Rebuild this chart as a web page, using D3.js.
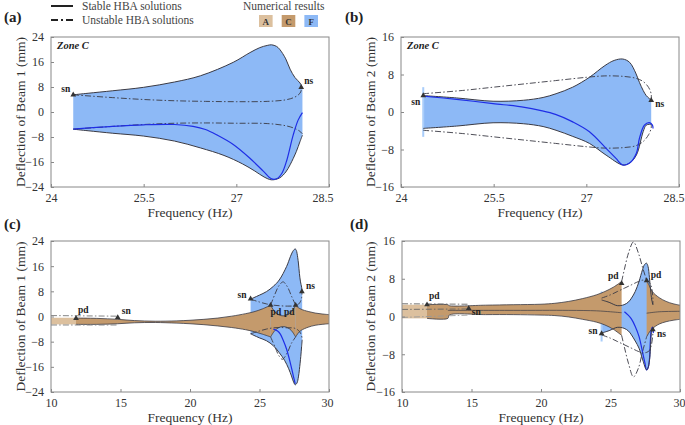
<!DOCTYPE html>
<html><head><meta charset="utf-8">
<script src="https://cdn.jsdelivr.net/npm/d3@7"></script>
<style>body{margin:0;background:#fff}svg{display:block}</style>
</head><body>
<svg id="chart" width="685" height="425"></svg>
<script>
// ---------------- DATA (frequency Hz, deflection mm) ----------------
const ticksZoomX = [24, 25.5, 27, 28.5];
const ticksFullX = [10, 15, 20, 25, 30];
const ticksBeam1Y = [-24, -16, -8, 0, 8, 16, 24];
const ticksBeam2Y = [-16, -8, 0, 8, 16];
const legendBoxes = ["A", "C", "F"];

// Beam 1, zone F branch (HBA)
const b1StableUpper = [[24.36,5.5],[24.6,6.0],[25.0,6.8],[25.5,7.9],[26.0,9.6],[26.42,11.6],[26.95,15.9],[27.22,19.0],[27.38,20.6],[27.5,21.3],[27.57,21.5],[27.65,21.0],[27.7,20.1],[27.8,17.0],[27.87,13.7],[27.95,11.0],[28.03,9.3],[28.07,7.6]];
const b1StableLower = [[24.36,-5.5],[24.6,-6.0],[25.0,-6.8],[25.5,-7.7],[26.0,-9.3],[26.42,-11.5],[26.8,-13.9],[27.1,-16.6],[27.3,-18.9],[27.45,-20.8],[27.57,-21.7],[27.7,-21.1],[27.8,-19.2],[27.87,-16.9],[27.97,-12.7],[28.03,-9.5],[28.07,-7.4]];
const b1UnstableUpper = [[24.36,5.5],[25.0,4.6],[25.5,4.0],[26.0,3.6],[26.5,3.4],[27.0,3.3],[27.5,3.4],[27.8,3.9],[27.95,4.8],[28.03,6.0],[28.06,7.6]];
const b1UnstableLower = [[24.36,-5.5],[25.0,-4.6],[25.5,-4.0],[26.0,-3.6],[26.5,-3.5],[27.0,-3.6],[27.5,-3.7],[27.8,-4.4],[27.95,-5.3],[28.03,-6.2],[28.07,-7.0]];
const b1Numerical = [[24.36,-5.5],[25.0,-4.6],[25.5,-4.1],[26.0,-4.0],[26.3,-4.6],[26.5,-5.6],[26.69,-7.4],[26.95,-10.4],[27.22,-14.8],[27.44,-19.0],[27.57,-21.4],[27.66,-21.3],[27.74,-19.5],[27.81,-15.9],[27.92,-7.4],[28.0,-2.6],[28.07,-0.2]];

// Beam 2, zone F branch (HBA)
const b2StableUpper = [[24.36,3.5],[24.9,3.0],[25.49,2.3],[25.98,2.5],[26.3,3.1],[26.51,3.9],[26.78,5.3],[27.05,7.4],[27.3,9.9],[27.45,11.0],[27.59,11.3],[27.7,10.6],[27.8,8.3],[27.86,6.3],[27.92,4.6],[27.97,3.5],[28.05,2.5]];
const b2StableLower = [[24.36,-3.5],[24.9,-3.0],[25.49,-2.3],[25.98,-2.5],[26.3,-3.1],[26.51,-3.9],[26.78,-5.2],[27.05,-6.7],[27.32,-9.2],[27.59,-11.3],[27.7,-10.9],[27.81,-9.2],[27.92,-4.2],[27.97,-2.8],[28.05,-2.6]];
const b2UnstableUpper = [[24.36,3.9],[25.0,4.6],[25.5,5.3],[26.0,6.0],[26.5,6.7],[27.0,7.4],[27.3,7.7],[27.6,7.6],[27.8,7.2],[27.92,6.5],[28.01,5.2],[28.05,3.8],[28.05,2.5]];
const b2UnstableLower = [[24.36,-3.9],[25.0,-4.6],[25.5,-5.3],[26.0,-6.0],[26.5,-6.7],[27.0,-7.4],[27.3,-7.7],[27.6,-7.6],[27.8,-7.2],[27.92,-6.3],[28.01,-4.8],[28.05,-3.4],[28.05,-2.6]];
const b2Numerical = [[24.36,3.4],[24.9,2.7],[25.49,1.8],[26.0,1.0],[26.25,0.35],[26.5,-0.5],[26.78,-2.1],[27.05,-4.2],[27.32,-7.75],[27.48,-9.9],[27.59,-11.3],[27.7,-10.9],[27.81,-8.8],[27.86,-5.6],[27.94,-2.8],[28.02,-2.25],[28.07,-2.8],[28.08,-3.5]];

// Beam 1, full sweep: zone A / C bands
const c1BandA_up = [[10,-0.4],[11.8,-0.4]];
const c1BandA_lo = [[10,-2.5],[11.8,-2.5]];
const c1BandL_up = [[11.8,-0.5],[13.3,-0.6],[14.8,-0.9],[16,-1.3],[17.5,-1.5],[19,-1.4],[20,-1.2],[21,-0.9],[22,-0.5],[23,0.1],[24,0.9],[24.6,1.5],[25.2,2.4],[25.8,3.6]];
const c1BandL_lo = [[11.8,-2.5],[13.3,-2.5],[14.8,-2.3],[16,-2.0],[17.5,-1.9],[19,-2.1],[20,-2.3],[21,-2.6],[22,-3.0],[23,-3.5],[24,-4.2],[24.6,-4.8],[25.2,-5.6],[25.8,-6.5]];
const c1BandM_up = [[25.8,3.6],[26.1,1.5],[26.4,0.5],[26.7,0.2],[27.0,0.5],[27.3,1.5],[27.6,3.6]];
const c1BandM_lo = [[25.8,-6.5],[26.1,-4.5],[26.4,-3.5],[26.7,-3.2],[27.0,-3.5],[27.3,-4.5],[27.6,-6.5]];
const c1BandR_up = [[27.6,3.6],[27.8,2.8],[28,2.3],[28.5,1.6],[29,1.1],[29.5,0.8],[30,0.6]];
const c1BandR_lo = [[27.6,-6.5],[27.8,-5.2],[28,-4.4],[28.5,-3.4],[29,-2.8],[29.5,-2.5],[30,-2.3]];
const c1HumpUp = [[25.8,3.6],[26.1,7.0],[26.4,9.8],[26.7,11.0],[27.0,9.5],[27.3,6.5],[27.6,3.6]];
const c1HumpLo = [[25.8,-6.5],[26.1,-9.5],[26.4,-12.5],[26.65,-13.6],[27.0,-11.5],[27.3,-8.5],[27.6,-6.5]];
const c1DashL1 = [[10,0.3],[14.8,0.1]];
const c1DashL2 = [[10,-2.7],[14.8,-2.7]];
const c1Markers = [[11.8,-0.6,"pd"],[14.8,-0.3,"sn"],[24.36,5.6,"sn"],[25.8,3.6,"pd"],[27.6,3.6,"pd"],[28.05,7.9,"ns"]];

// Beam 2, full sweep: zone A / C bands
const c2BandA_up = [[10,2.5],[11.8,2.5]];
const c2BandA_lo = [[10,-0.4],[11.8,-0.4]];
const c2BandL_up = [[11.8,2.5],[13.3,2.5],[13.4,2.3],[16,2.4],[18,2.5],[20,2.6],[21,2.8],[22,3.2],[23,3.8],[24,4.6],[24.6,5.3],[25.2,6.2],[25.8,7.4]];
const c2BandL_lo = [[11.8,-0.4],[13.3,-0.4],[13.4,0.3],[16,0.4],[18,0.4],[20,0.3],[21,0.2],[22,-0.1],[23,-0.6],[24,-1.2],[24.6,-1.8],[25.2,-2.7],[25.8,-4.0]];
const c2BandR_up = [[27.6,7.6],[27.8,6.5],[28,5.3],[28.5,4.0],[29,3.2],[29.5,2.7],[30,2.4]];
const c2BandR_lo = [[27.6,-4.3],[27.8,-3.3],[28,-2.6],[28.5,-1.6],[29,-1.1],[29.5,-0.8],[30,-0.6]];
const c2HumpUp = [[25.8,7.4],[26.0,10.0],[26.3,13.5],[26.65,15.8],[27.0,13.5],[27.3,10.5],[27.6,7.6]];
const c2HumpLo = [[25.8,-4.0],[26.0,-6.5],[26.3,-10.0],[26.65,-12.8],[27.0,-11.0],[27.3,-7.5],[27.6,-4.3]];
const c2Mid = [[13.3,1.3],[18,1.3],[22,1.3],[24,1.2],[25,1.0],[25.8,0.8]];
const c2MidR = [[27.6,0.7],[28.5,1.0],[30,1.1]];
const c2DashL1 = [[10,2.7],[14.8,2.6]];
const c2DashL2 = [[10,1.5],[14.8,1.6]];
const c2DashL3 = [[10,-0.2],[14.8,0.3]];
const c2Markers = [[11.8,2.5,"pd"],[14.8,1.7,"sn"],[24.36,-3.6,"sn"],[25.8,7.0,"pd"],[27.6,7.6,"pd"],[28.05,-2.8,"ns"]];

const a1Markers = [[24.36,5.5,"sn"],[28.05,7.9,"ns"]];
const a2Markers = [[24.36,3.5,"sn"],[28.05,2.5,"ns"]];

// ---------------- STYLE ----------------
const FONT = "'Liberation Serif','DejaVu Serif',serif";
const COL_F = "#8db9f6", COL_C = "#c49a6c", COL_A = "#dcc09e";
const COL_LINE = "#3a3a44", COL_BLUE = "#1f2ee6";
const DASHDOT = "6,2.2,1.5,2.2";

const svg = d3.select("#chart");

// ---------------- LEGEND ----------------
svg.append("line").attr("x1",51).attr("x2",73).attr("y1",6).attr("y2",6).attr("stroke","#222").attr("stroke-width",2);
svg.append("line").attr("x1",51).attr("x2",73).attr("y1",20).attr("y2",20).attr("stroke","#222").attr("stroke-width",2).attr("stroke-dasharray","7,3,2,3");
svg.append("text").attr("x",82).attr("y",10).text("Stable HBA solutions").style("font-family",FONT).style("font-size","11.5px").attr("fill","#444");
svg.append("text").attr("x",82).attr("y",24).text("Unstable HBA solutions").style("font-family",FONT).style("font-size","11.5px").attr("fill","#444");
svg.append("text").attr("x",243).attr("y",10).text("Numerical results").style("font-family",FONT).style("font-size","11.5px").attr("fill","#444");
const legScale = d3.scaleBand().domain(legendBoxes).range([259,318]).paddingInner(0.4);
const legCols = {A:COL_A, C:COL_C, F:COL_F};
legendBoxes.forEach(k=>{
  svg.append("rect").attr("x",legScale(k)).attr("y",15).attr("width",legScale.bandwidth()).attr("height",12).attr("fill",legCols[k]);
  svg.append("text").attr("x",legScale(k)+legScale.bandwidth()/2).attr("y",24.5).attr("text-anchor","middle")
    .text(k).style("font-family",FONT).style("font-size","9px").style("font-weight","bold").attr("fill","#333");
});

// ---------------- PANELS ----------------
const labelOffsets = {
  a: [["end",-3,-3],["start",3,-3]],
  b: [["end",-3,9],["start",4,7]],
  c: [["start",2,-5],["start",4,-3],["end",-4,-1],["start",0,10],["end",-1,10],["start",4,-3]],
  d: [["start",2,-6],["start",3,7],["end",-4,1],["end",-3,-4],["start",4,-3],["start",4,7]]
};

const panels = [
  {id:"a", x0:51, x1:329, y0:37, y1:187, xdom:[24,28.5], ydom:[-24,24], xt:ticksZoomX, yt:ticksBeam1Y, ylab:"Deflection of Beam 1 (mm)", tx:4, ty:22, ylx:20, zone:true},
  {id:"b", x0:401, x1:679, y0:37, y1:187, xdom:[24,28.5], ydom:[-16,16], xt:ticksZoomX, yt:ticksBeam2Y, ylab:"Deflection of Beam 2 (mm)", tx:345, ty:22, ylx:370, zone:true},
  {id:"c", x0:51, x1:329, y0:241, y1:392, xdom:[10,30], ydom:[-24,24], xt:ticksFullX, yt:ticksBeam1Y, ylab:"Deflection of Beam 1 (mm)", tx:4, ty:229, ylx:20, zone:false},
  {id:"d", x0:402, x1:680, y0:241, y1:392, xdom:[10,30], ydom:[-16,16], xt:ticksFullX, yt:ticksBeam2Y, ylab:"Deflection of Beam 2 (mm)", tx:350, ty:229, ylx:370, zone:false}
];

panels.forEach(p=>{
  const x = d3.scaleLinear().domain(p.xdom).range([p.x0,p.x1]);
  const y = d3.scaleLinear().domain(p.ydom).range([p.y1,p.y0]);
  const g = svg.append("g");
  const clipId = "clip-"+p.id;
  svg.append("clipPath").attr("id",clipId).append("rect").attr("x",p.x0).attr("y",p.y0).attr("width",p.x1-p.x0).attr("height",p.y1-p.y0);
  const plot = g.append("g").attr("clip-path",`url(#${clipId})`);

  const lineC = d3.line().x(d=>x(d[0])).y(d=>y(d[1])).curve(d3.curveCatmullRom.alpha(0.5));
  const lineL = d3.line().x(d=>x(d[0])).y(d=>y(d[1]));
  const band = (up, lo, fill, curved=true) => {
    const f = curved ? lineC : lineL;
    const d = f(up) + f(lo.slice().reverse()).replace(/^M/,"L") + "Z";
    plot.append("path").attr("d",d).attr("fill",fill).attr("stroke","none");
  };
  const ln = (data, stroke, w, dash) => {
    const pth = plot.append("path").attr("d",lineC(data)).attr("fill","none").attr("stroke",stroke).attr("stroke-width",w);
    if (dash) pth.attr("stroke-dasharray",dash);
    return pth;
  };
  const markers = (arr, offs) => {
    arr.forEach((m,i)=>{
      g.append("path").attr("d",d3.symbol(d3.symbolTriangle,14)()).attr("transform",`translate(${x(m[0])},${y(m[1])})`).attr("fill","#333");
      const o = offs[i];
      g.append("text").attr("x",x(m[0])+o[1]).attr("y",y(m[1])+o[2]).attr("text-anchor",o[0])
        .text(m[2]).style("font-family",FONT).style("font-size","9.5px").style("font-weight","bold").attr("fill","#222");
    });
  };

  if (p.id === "a" || p.id === "c") {
    band(b1StableUpper, b1StableLower, COL_F);
  } else {
    band(b2StableUpper, b2StableLower, COL_F);
    plot.append("line").attr("x1",x(24.36)).attr("x2",x(24.36)).attr("y1",y(5.3)).attr("y2",y(-5.3)).attr("stroke","#a9cdfa").attr("stroke-width",2);
  }

  if (p.id === "c") {
    band(c1BandA_up, c1BandA_lo, COL_A, false);
    band(c1BandL_up, c1BandL_lo, COL_C);
    band(c1BandM_up, c1BandM_lo, COL_C);
    band(c1BandR_up, c1BandR_lo, COL_C);
    [c1BandL_up,c1BandL_lo,c1BandM_up,c1BandM_lo,c1BandR_up,c1BandR_lo].forEach(dd=>ln(dd,COL_LINE,0.8));
    ln(c1DashL1, "#777", 0.9, DASHDOT);
    ln(c1DashL2, "#777", 0.9, DASHDOT);
    ln(c1HumpUp, COL_LINE, 0.9, DASHDOT);
    ln(c1HumpLo, COL_LINE, 0.9, DASHDOT);
    ln(b1Numerical.filter(d=>d[0]>=25.8 && d[0]<=27.62), COL_BLUE, 1.2);
  }
  if (p.id === "d") {
    band(c2BandA_up, c2BandA_lo, COL_A, false);
    band(c2BandL_up, c2BandL_lo, COL_C);
    band(c2BandR_up, c2BandR_lo, COL_C);
    [c2BandL_up,c2BandL_lo,c2BandR_up,c2BandR_lo].forEach(dd=>ln(dd,COL_LINE,0.8));
    ln(c2Mid, COL_LINE, 0.7);
    ln(c2MidR, COL_LINE, 0.7);
    ln(c2DashL1, "#666", 0.9, DASHDOT);
    ln(c2DashL2, "#666", 0.9, DASHDOT);
    ln(c2DashL3, "#999", 0.9, DASHDOT);
    ln(c2HumpUp, COL_LINE, 0.9, DASHDOT);
    ln(c2HumpLo, COL_LINE, 0.9, DASHDOT);
    ln(b2Numerical.filter(d=>d[0]>=25.8), COL_BLUE, 1.2);
  }

  if (p.id === "a" || p.id === "c") {
    ln(b1StableUpper, COL_LINE, 1);
    ln(b1StableLower, COL_LINE, 1);
    ln(b1UnstableUpper, COL_LINE, 0.9, DASHDOT);
    ln(b1UnstableLower, COL_LINE, 0.9, DASHDOT);
    if (p.id === "a") ln(b1Numerical, COL_BLUE, 1.2);
  } else {
    ln(b2StableUpper, COL_LINE, 1);
    ln(b2StableLower, COL_LINE, 1);
    ln(b2UnstableUpper, COL_LINE, 0.9, DASHDOT);
    ln(b2UnstableLower, COL_LINE, 0.9, DASHDOT);
    if (p.id === "b") ln(b2Numerical, COL_BLUE, 1.2);
  }

  // frame
  g.append("rect").attr("x",p.x0).attr("y",p.y0).attr("width",p.x1-p.x0).attr("height",p.y1-p.y0)
    .attr("fill","none").attr("stroke","#888").attr("stroke-width",1);

  // axes
  const xa = g.append("g").attr("transform",`translate(0,${p.y1})`)
    .call(d3.axisBottom(x).tickValues(p.xt).tickSize(3).tickPadding(3).tickFormat(d3.format("")));
  const ya = g.append("g").attr("transform",`translate(${p.x0},0)`)
    .call(d3.axisLeft(y).tickValues(p.yt).tickSize(3).tickPadding(4).tickFormat(d3.format("")));
  [xa,ya].forEach(a=>{
    a.select(".domain").remove();
    a.selectAll("line").attr("stroke","#888");
    a.selectAll("text").style("font-family",FONT).style("font-size","12px").attr("fill","#333");
  });
  xa.selectAll("line").attr("y2",-3);
  ya.selectAll("line").attr("x2",3);
  // last x tick label kept inside the page
  xa.selectAll(".tick").filter((d,i,n)=>i===n.length-1).select("text").attr("text-anchor","end").attr("dx", p.id==="b"||p.id==="d" ? 5 : 4);

  g.append("text").attr("x",(p.x0+p.x1)/2).attr("y",p.y1+30).attr("text-anchor","middle")
    .text("Frequency (Hz)").style("font-family",FONT).style("font-size","13.5px").attr("fill","#333");
  g.append("text").attr("transform",`translate(${p.ylx},${(p.y0+p.y1)/2}) rotate(-90)`).attr("text-anchor","middle").attr("dy","0.35em")
    .text(p.ylab).style("font-family",FONT).style("font-size","13.5px").attr("fill","#333");
  g.append("text").attr("x",p.tx).attr("y",p.ty).text(`(${p.id})`)
    .style("font-family",FONT).style("font-size","15px").style("font-weight","bold").attr("fill","#222");
  if (p.zone) {
    g.append("text").attr("x",p.x0+6).attr("y",p.y0+12).text("Zone C")
      .style("font-family",FONT).style("font-size","10.5px").style("font-weight","bold").style("font-style","italic").attr("fill","#222");
  }

  const mk = {a:a1Markers, b:a2Markers, c:c1Markers, d:c2Markers}[p.id];
  markers(mk, labelOffsets[p.id]);
});
</script>
</body></html>
